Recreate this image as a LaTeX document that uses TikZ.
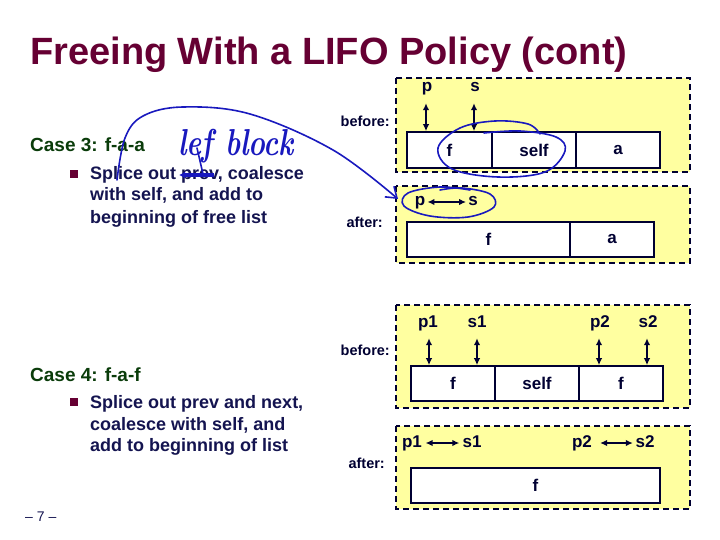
\documentclass[tikz,border=0pt]{standalone}
\usepackage{fontspec}
\setsansfont{Liberation Sans}
\usetikzlibrary{arrows.meta,calc}
\definecolor{titlec}{RGB}{102,0,51}
\definecolor{headc}{RGB}{10,60,10}
\definecolor{bodyc}{RGB}{20,20,80}
\definecolor{boxc}{RGB}{0,0,50}
\definecolor{yel}{RGB}{255,255,160}
\definecolor{ink}{RGB}{25,25,190}
\begin{document}
\begin{tikzpicture}[x=1pt,y=-1pt,
  panel/.style={draw=boxc, fill=yel, line width=1.8pt, dash pattern=on 6pt off 4pt},
  cell/.style={draw=boxc, fill=white, line width=1.6pt, inner sep=0pt, minimum height=35pt,
    font=\sffamily\bfseries\fontsize{17}{17}\selectfont, text=boxc},
  lbl/.style={font=\sffamily\bfseries\fontsize{17}{17}\selectfont, text=boxc, inner sep=0pt,
    text height=9pt, text depth=3pt},
  ptr/.style={{Latex[length=7pt,width=6.5pt]}-{Latex[length=7pt,width=6.5pt]}, line width=2.6pt, draw=boxc},
  tag/.style={font=\sffamily\bfseries\fontsize{14.5}{14.5}\selectfont, text=boxc, inner sep=0pt, anchor=base east},
  head/.style={font=\sffamily\bfseries\fontsize{19}{19}\selectfont, text=headc, inner sep=0pt, anchor=base west},
  body/.style={font=\sffamily\bfseries\fontsize{18}{18}\selectfont, text=bodyc, inner sep=0pt, anchor=base west},
  bul/.style={fill=titlec, minimum size=7.5pt, inner sep=0pt},
  hand/.style={draw=ink, line width=1.6pt, line cap=round, line join=round}
]
\useasboundingbox (0,0) rectangle (720,540);
\fill[white] (0,0) rectangle (720,540);

% title
\node[anchor=base west, inner sep=0pt, font=\sffamily\bfseries\fontsize{38}{38}\selectfont, text=titlec] (title) at (30,65) {Freeing With a LIFO Policy (cont)};

% left text
\node[head] (h3) at (30,152) {Case 3: f-a-a};
\node[bul] (b3) at (74,174) {};
\node[body] (t3a) at (90,180) {Splice out prev, coalesce};
\node[body] (t3b) at (90,201) {with self, and add to};
\node[body] (t3c) at (90,223) {beginning of free list};

\node[head] (h4) at (30,381) {Case 4: f-a-f};
\node[bul] (b4) at (74,402) {};
\node[body] (t4a) at (90,408) {Splice out prev and next,};
\node[body] (t4b) at (90,430) {coalesce with self, and};
\node[body] (t4c) at (90,451) {add to beginning of list};

\node[anchor=base west, inner sep=0pt, font=\sffamily\fontsize{14}{14}\selectfont, text=bodyc] (pg) at (25,521) {-- 7 --};

% panels
\draw[panel] (396,78) rectangle (690,172);
\draw[panel] (396,186) rectangle (690,263);
\draw[panel] (396,305) rectangle (690,408);
\draw[panel] (396,426) rectangle (690,509);

\node[tag] (bef3) at (390,127) {before:};
\node[tag] (aft3) at (383,228) {after:};
\node[tag] (bef4) at (390,355) {before:};
\node[tag] (aft4) at (385,468) {after:};

% case 3 before
\node[cell, minimum width=85pt, minimum height=36pt] (c3f) at (449.5,150) {f};
\node[cell, minimum width=84pt, minimum height=36pt] (c3s) at (534,150) {self};
\node[cell, minimum width=84pt, minimum height=36pt] (c3a) at (618,150) {a};
\node[lbl] (p3) at (427,89) {p};
\node[lbl] (s3) at (475,89) {s};
\draw[ptr] ($(p3.south)+(-1,8)$) -- ($(p3.south |- c3f.north)+(-1,0)$);
\draw[ptr] ($(s3.south)+(-1,8)$) -- ($(s3.south |- c3f.north)+(-1,0)$);

% case 3 after
\node[cell, minimum width=163pt] (d3f) at (488.5,239.5) {f};
\node[cell, minimum width=84pt] (d3a) at (612,239.5) {a};
\node[lbl] (p3b) at (420,203) {p};
\node[lbl] (s3b) at (473,203) {s};
\draw[ptr] ($(p3b.east)+(2,-1)$) -- ($(s3b.west)+(-2,-1)$);

% case 4 before
\node[cell, minimum width=84pt] (c4f) at (453,383.5) {f};
\node[cell, minimum width=84pt] (c4s) at (537,383.5) {self};
\node[cell, minimum width=84pt] (c4g) at (621,383.5) {f};
\node[lbl] (p41) at (428,324) {p1};
\node[lbl] (s41) at (477,324) {s1};
\node[lbl] (p42) at (600,324) {p2};
\node[lbl] (s42) at (648,324) {s2};
\draw[ptr] ($(p41.south)+(1,8)$) -- ($(p41.south |- c4f.north)+(1,0)$);
\draw[ptr] ($(s41.south)+(0,8)$) -- (s41.south |- c4f.north);
\draw[ptr] ($(p42.south)+(-1,8)$) -- ($(p42.south |- c4f.north)+(-1,0)$);
\draw[ptr] ($(s42.south)+(-1,8)$) -- ($(s42.south |- c4f.north)+(-1,0)$);

% case 4 after
\node[cell, minimum width=249pt] (d4f) at (535.5,485.5) {f};
\node[lbl] (p41b) at (412,444) {p1};
\node[lbl] (s41b) at (472,444) {s1};
\node[lbl] (p42b) at (582,444) {p2};
\node[lbl] (s42b) at (645,444) {s2};
\draw[ptr] ($(p41b.east)+(3.5,-1)$) -- ($(s41b.west)+(-3,-1)$);
\draw[ptr] ($(p42b.east)+(8,-1)$) -- ($(s42b.west)+(-2.5,-1)$);

% handwritten annotations
\draw[hand] plot[smooth, tension=0.6] coordinates {(540,134) (528,124) (495,121) (460,128) (438,148) (452,169) (498,177) (545,172) (565,151) (556,137) (520,131) (484,133)};
\draw[hand] plot[smooth, tension=0.6] coordinates {(470,190) (440,187) (408,193) (404,206) (430,216) (468,217) (494,207) (490,194) (462,188) (440,190)};
\draw[hand, -{Straight Barb[length=10pt,width=14pt]}] plot[smooth, tension=0.6] coordinates {(117,180) (125,138) (143,116) (183,107) (250,114) (333,150) (398,199)};
\node[anchor=base west, inner sep=0pt, text=ink, font=\rmfamily\bfseries\itshape\fontsize{30}{30}\selectfont, xscale=0.95, yscale=1.25] (lb) at (178,156) {lef block};
\draw[draw=ink, line width=3.4pt, -{Latex[length=6pt,width=7pt]}] (214,175) -- (179,175);
\draw[hand] (197,148) -- (203,174);
\end{tikzpicture}
\end{document}
